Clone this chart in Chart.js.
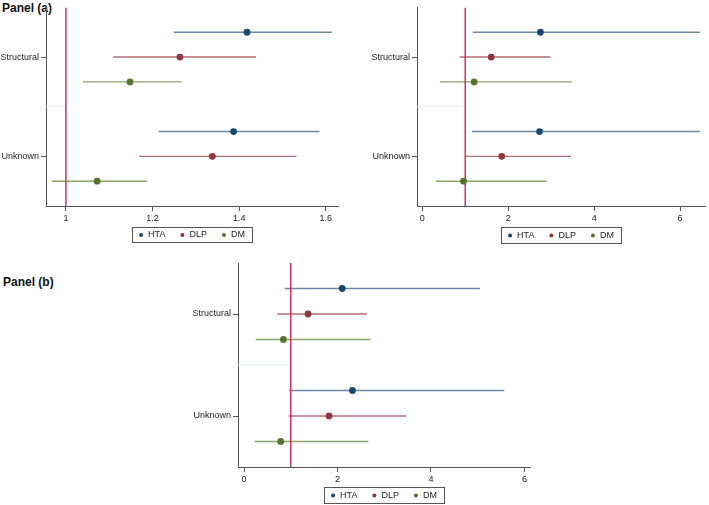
<!DOCTYPE html>
<html>
<head>
<meta charset="utf-8">
<script src="https://cdn.jsdelivr.net/npm/chart.js@4.4.1/dist/chart.umd.min.js"></script>
<style>
  body { margin: 0; background: #fff; }
  #wrap { position: relative; width: 709px; height: 505px; overflow: hidden; font-family: "Liberation Sans", Arial, sans-serif; }
  canvas { position: absolute; }
  .panel-label { position: absolute; font-weight: bold; font-size: 12px; color: #111; }
</style>
</head>
<body>
<div id="wrap">
  <div class="panel-label" style="left:2px; top:1px;">Panel (a)</div>
  <div class="panel-label" style="left:3px; top:275px;">Panel (b)</div>
  <canvas id="chart-a" width="345" height="250" style="left:0; top:0;"></canvas>
  <canvas id="chart-b" width="364" height="250" style="left:345px; top:0;"></canvas>
  <canvas id="chart-c" width="400" height="250" style="left:150px; top:255px;"></canvas>
</div>
<script>
// groups on the y axis and the three series
const groups = ["Structural", "Unknown"];
const series = ["HTA", "DLP", "DM"];

// panel (a) top-left: [estimate, lower, upper] for Structural, Unknown
const aHTA = [[1.418, 1.249, 1.614], [1.387, 1.214, 1.585]];
const aDLP = [[1.263, 1.109, 1.439], [1.338, 1.169, 1.532]];
const aDM = [[1.148, 1.039, 1.267], [1.072, 0.968, 1.187]];
const aTicks = [1, 1.2, 1.4, 1.6];

// panel (a) top-right
const bHTA = [[2.75, 1.175, 6.46], [2.73, 1.152, 6.46]];
const bDLP = [[1.606, 0.869, 2.98], [1.85, 1.0, 3.46]];
const bDM = [[1.207, 0.415, 3.48], [0.96, 0.316, 2.9]];
const bTicks = [0, 2, 4, 6];

// panel (b)
const cHTA = [[2.1, 0.872, 5.05], [2.32, 0.964, 5.57]];
const cDLP = [[1.37, 0.715, 2.63], [1.82, 0.957, 3.47]];
const cDM = [[0.843, 0.25, 2.71], [0.786, 0.229, 2.66]];
const cTicks = [0, 2, 4, 6];

const refValue = 1;

const dotColors = ["#1a476f", "#90353b", "#55752f"];
const lineColors = ["#6a86a6", "#b46c74", "#8aa36a"];
const FONT = '"Liberation Sans", Arial, sans-serif';

// row slot on the y scale: 3 rows per group plus one blank row between groups
function rowPos(g, s) {
  return g * 4 + s + 1;
}

function buildDatasets(allRows, xmin) {
  const ds = [];
  allRows.forEach((rows, s) => {
    ds.push({
      label: series[s],
      data: rows.map((r, g) => ({ x: r[0], y: rowPos(g, s) })),
      backgroundColor: dotColors[s],
      borderColor: dotColors[s],
      pointRadius: 3.4,
      pointBorderWidth: 0,
      showLine: false,
      order: 0,
    });
    rows.forEach((r, g) => {
      ds.push({
        data: [{ x: r[1], y: rowPos(g, s) }, { x: r[2], y: rowPos(g, s) }],
        borderColor: lineColors[s],
        borderWidth: 1.4,
        pointRadius: 0,
        showLine: true,
        order: 2,
      });
    });
  });
  // vertical reference line
  ds.push({
    data: [{ x: refValue, y: 0 }, { x: refValue, y: 8 }],
    borderColor: "#cc2a52",
    borderWidth: 1.4,
    pointRadius: 0,
    showLine: true,
    order: 1,
  });
  // faint separator between the groups
  ds.push({
    data: [{ x: xmin, y: 4 }, { x: refValue, y: 4 }],
    borderColor: "#e6eef3",
    borderWidth: 1,
    pointRadius: 0,
    showLine: true,
    order: 3,
  });
  return ds;
}

const boxLegend = {
  id: "boxLegend",
  afterDraw(chart, args, opts) {
    const ctx = chart.ctx;
    const area = chart.chartArea;
    ctx.save();
    ctx.font = "9px " + FONT;
    const pad = 7, r = 2, dotGap = 5, itemGap = 15;
    const widths = series.map((s) => ctx.measureText(s).width);
    let w = pad * 2 + itemGap * (series.length - 1);
    widths.forEach((tw) => (w += r * 2 + dotGap + tw));
    const left = (area.left + area.right) / 2 - w / 2;
    const top = opts.top;
    const h = opts.height;
    ctx.strokeStyle = "#555";
    ctx.lineWidth = 1;
    ctx.strokeRect(Math.round(left) + 0.5, top + 0.5, Math.round(w), h);
    let x = left + pad;
    const cy = top + h / 2 + 0.5;
    series.forEach((s, i) => {
      ctx.fillStyle = dotColors[i];
      ctx.beginPath();
      ctx.arc(x + r, cy, r, 0, Math.PI * 2);
      ctx.fill();
      x += r * 2 + dotGap;
      ctx.fillStyle = "#222";
      ctx.textBaseline = "middle";
      ctx.fillText(s, x, cy);
      x += widths[i] + itemGap;
    });
    ctx.restore();
  },
};

function makePanel(canvasId, rows, ticks, p) {
  const ctx = document.querySelector(canvasId).getContext("2d");
  new Chart(ctx, {
    type: "scatter",
    data: { datasets: buildDatasets(rows, p.xmin) },
    options: {
      responsive: false,
      animation: false,
      events: [],
      layout: { padding: { left: 0, right: p.right, top: p.top, bottom: 0 } },
      plugins: {
        legend: { display: false },
        tooltip: { enabled: false },
        boxLegend: { top: p.legendTop, height: p.legendH },
      },
      scales: {
        x: {
          type: "linear",
          min: p.xmin,
          max: p.xmax,
          afterBuildTicks: (axis) => {
            axis.ticks = ticks.map((v) => ({ value: v }));
          },
          afterFit: (scale) => {
            scale.height = p.xh;
          },
          ticks: {
            autoSkip: false,
            maxRotation: 0,
            padding: 2,
            color: "#222",
            font: { family: FONT, size: 9 },
            callback: (v) => String(v),
          },
          grid: { drawOnChartArea: false, drawTicks: true, tickLength: 5, color: "#555" },
          border: { display: true, color: "#555", width: 1 },
        },
        y: {
          type: "linear",
          reverse: true,
          min: 0,
          max: 8,
          afterBuildTicks: (axis) => {
            axis.ticks = groups.map((g, i) => ({ value: rowPos(i, 1) }));
          },
          afterFit: (scale) => {
            scale.width = p.yw;
          },
          ticks: {
            autoSkip: false,
            padding: 2,
            color: "#222",
            font: { family: FONT, size: 9 },
            callback: (v) => groups[(v - 2) / 4],
          },
          grid: { drawOnChartArea: false, drawTicks: true, tickLength: 5, color: "#555" },
          border: { display: true, color: "#555", width: 1 },
        },
      },
    },
    plugins: [boxLegend],
  });
}

makePanel("#chart-a", [aHTA, aDLP, aDM], aTicks, {
  xmin: 0.954, xmax: 1.628, yw: 46, xh: 44, right: 7, top: 4, legendTop: 227, legendH: 15,
});
makePanel("#chart-b", [bHTA, bDLP, bDM], bTicks, {
  xmin: -0.122, xmax: 6.58, yw: 72, xh: 44, right: 1, top: 3, legendTop: 227, legendH: 16,
});
makePanel("#chart-c", [cHTA, cDLP, cDM], cTicks, {
  xmin: -0.129, xmax: 6.12, yw: 88, xh: 38, right: 20, top: 8, legendTop: 232, legendH: 16,
});
</script>
</body>
</html>
